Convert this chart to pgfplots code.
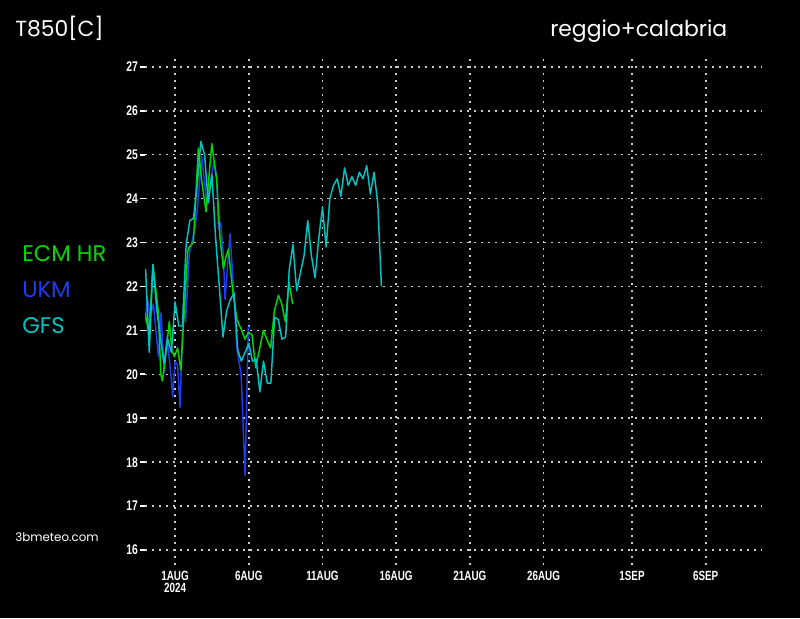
\documentclass[border=0pt]{standalone}
\usepackage{pgfplots}
\pgfplotsset{compat=1.18}
\usepackage{fontspec}
\setmainfont{Liberation Sans}
\newfontfamily\thinfont{Poppins}
\newfontfamily\tickfont{Liberation Sans}[FakeStretch=0.74]

\definecolor{ecm}{RGB}{0,215,0}
\definecolor{ukm}{RGB}{30,60,240}
\definecolor{gfs}{RGB}{0,195,195}
\definecolor{gridc}{RGB}{205,205,205}

\begin{document}
\begin{tikzpicture}
\useasboundingbox (0,0) rectangle (600pt,463.5pt);
\fill[black] (0,0) rectangle (600pt,463.5pt);

% titles and legend
\node[anchor=base west,text=white,font=\thinfont\fontsize{16.4}{17}\selectfont,inner sep=0pt] at (11.25pt,435.75pt) {T850[C]};
\node[anchor=base west,text=white,font=\thinfont\fontsize{16.4}{17}\selectfont,inner sep=0pt] at (412.5pt,435.75pt) {reggio+calabria};
\node[anchor=base west,text=ecm,font=\thinfont\fontsize{17}{18}\selectfont,inner sep=0pt] at (16.5pt,267pt) {ECM HR};
\node[anchor=base west,text=ukm,font=\thinfont\fontsize{17}{18}\selectfont,inner sep=0pt] at (16.5pt,240pt) {UKM};
\node[anchor=base west,text=gfs,font=\thinfont\fontsize{17}{18}\selectfont,inner sep=0pt] at (16.5pt,213pt) {GFS};
\node[anchor=base west,text=white,font=\thinfont\fontsize{8.9}{9}\selectfont,inner sep=0pt] at (11.25pt,57pt) {3bmeteo.com};

\begin{axis}[
    at={(108.75pt,39.75pt)}, anchor=south west,
    scale only axis,
    width=462.75pt, height=380.25pt,
    xmin=-2.04, xmax=39.82,
    ymin=15.66, ymax=27.2,
    separate axis lines,
    axis line style={draw=none},
    xtick={0,5,10,15,20,25,31,36},
    xticklabels={1AUG\\2024,6AUG,11AUG,16AUG,21AUG,26AUG,1SEP,6SEP},
    xticklabel style={align=center,font=\tickfont\bfseries\fontsize{10}{8.6}\selectfont,text=white,inner sep=1pt},
    ytick={16,17,...,27},
    ytick pos=left,
    yticklabel style={font=\tickfont\bfseries\fontsize{10.5}{11}\selectfont,text=white,inner sep=1.5pt},
    /pgf/number format/assume math mode=true,
    tick align=outside,
    major tick length=3.6pt,
    tick style={white,line width=1.3pt},
    xtick style={draw=none},
    grid=major,
    major grid style={gridc,line width=1.2pt,dash pattern=on 1.2pt off 4.05pt},
    every axis plot/.append style={line width=1.1pt,line join=round},
  ]
  % UKM
  \addplot[ukm,sharp plot] coordinates {
    (-2.03,21.2) (-1.88,21.75) (-1.70,21.3) (-1.47,21.6) (-1.13,20.4)
    (-0.95,21.4) (-0.75,20.05) (-0.56,20.85) (-0.37,20.3) (-0.16,19.5)
    (0,20.3) (0.17,20.2) (0.34,19.25) (0.56,21.6) (0.71,21.2)
    (0.97,22.75) (1.36,23.35) (1.51,23.75) (1.81,24.95) (2.15,23.9)
    (2.65,24.85) (2.83,24.5) (2.94,23.3) (3.10,23.45) (3.28,22.7)
    (3.39,21.7) (3.73,23.2) (3.96,22.0) (4.19,20.6) (4.48,20.0)
    (4.75,17.7) (4.97,21.1)
  };
  % ECM HR
  \addplot[ecm,sharp plot] coordinates {
    (-2.03,21.4) (-1.76,20.9) (-1.51,22.5) (-1.13,21.4) (-0.97,20.0)
    (-0.86,19.85) (-0.68,20.3) (-0.39,21.2) (-0.22,20.55) (-0.05,20.4)
    (0.17,20.6) (0.39,20.1) (0.63,21.5) (0.86,22.8) (0.97,22.9)
    (1.24,23.0) (1.58,25.15) (1.81,24.4) (2.10,23.7) (2.49,25.25)
    (2.83,24.4) (3.05,23.1) (3.28,22.4) (3.43,22.65) (3.62,22.85)
    (3.91,21.9) (4.20,21.25) (4.52,21.0) (4.75,20.8) (4.97,20.95)
    (5.22,20.9) (5.47,20.15) (5.72,20.55) (5.99,21.0) (6.22,20.8)
    (6.48,20.6) (6.74,21.45) (7.01,21.8) (7.24,21.6) (7.48,21.2)
    (7.73,22.1) (7.98,21.6)
  };
  % GFS
  \addplot[gfs,sharp plot] coordinates {
    (-2,22.4) (-1.75,20.5) (-1.5,22.5) (-1.25,21.5) (-1,20.85)
    (-0.75,20.25) (-0.5,20.8) (-0.25,20.5) (0,21.65) (0.25,21.1)
    (0.5,21.1) (0.75,22.95) (1,23.5) (1.25,23.55) (1.5,24.3)
    (1.75,25.3) (2,25.0) (2.25,23.9) (2.5,24.55) (2.75,23.1)
    (3,22.0) (3.25,20.85) (3.5,21.45) (3.75,21.7) (4,21.85)
    (4.25,20.55) (4.5,20.3) (4.75,20.5) (5,20.7) (5.25,20.3)
    (5.5,20.35) (5.75,19.6) (6,20.3) (6.25,19.8) (6.5,19.8)
    (6.75,21.3) (7,21.25) (7.25,20.8) (7.5,20.85) (7.75,22.4)
    (8,22.95) (8.25,21.9) (8.5,22.3) (8.75,22.7) (9,23.5)
    (9.25,22.7) (9.5,22.2) (9.75,23.1) (10,23.8) (10.25,22.9)
    (10.5,24.0) (10.75,24.3) (11,24.45) (11.25,24.05) (11.5,24.7)
    (11.75,24.3) (12,24.5) (12.25,24.3) (12.5,24.6) (12.75,24.45)
    (13,24.75) (13.25,24.1) (13.5,24.6) (13.75,23.9) (14,22.0)
  };
\end{axis}
\end{tikzpicture}
\end{document}
